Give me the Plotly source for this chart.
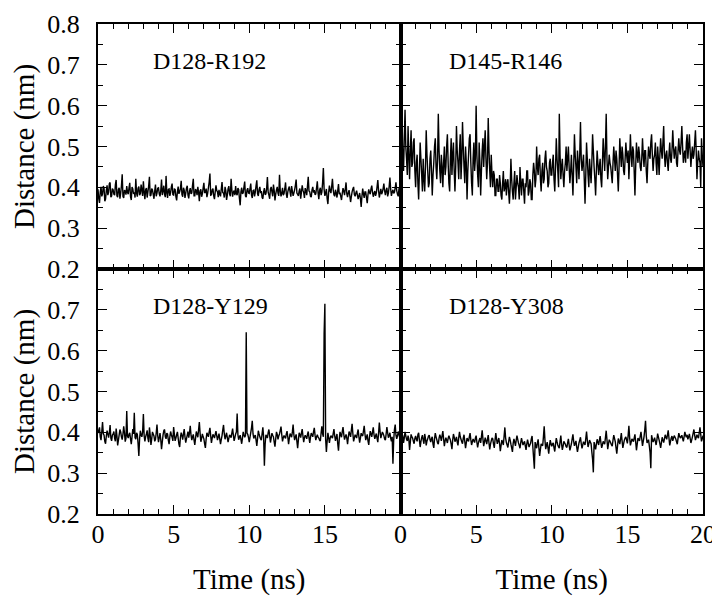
import plotly.graph_objects as go
from plotly.subplots import make_subplots

# distance traces, one sample every 0.05 ns (0 .. 20 ns)
d128_r192 = [
    0.395, 0.372, 0.362, 0.389, 0.401, 0.378, 0.384, 0.403, 0.398, 0.366,
    0.371, 0.392, 0.405, 0.381, 0.388, 0.409, 0.412, 0.376, 0.379, 0.397,
    0.394, 0.383, 0.381, 0.407, 0.418, 0.379, 0.376, 0.395, 0.399, 0.372,
    0.386, 0.404, 0.432, 0.378, 0.374, 0.393, 0.391, 0.382, 0.403, 0.388,
    0.383, 0.399, 0.411, 0.377, 0.369, 0.401, 0.396, 0.384, 0.388, 0.375,
    0.421, 0.386, 0.377, 0.398, 0.402, 0.381, 0.385, 0.407, 0.393, 0.379,
    0.415, 0.388, 0.371, 0.394, 0.398, 0.375, 0.389, 0.403, 0.426, 0.379,
    0.381, 0.397, 0.394, 0.383, 0.372, 0.391, 0.407, 0.378, 0.386, 0.398,
    0.399, 0.384, 0.378, 0.392, 0.419, 0.381, 0.391, 0.404, 0.383, 0.376,
    0.428, 0.387, 0.374, 0.395, 0.396, 0.379, 0.387, 0.401, 0.409, 0.382,
    0.381, 0.396, 0.395, 0.377, 0.368, 0.389, 0.402, 0.384, 0.389, 0.397,
    0.416, 0.383, 0.377, 0.399, 0.393, 0.374, 0.385, 0.398, 0.404, 0.381,
    0.373, 0.391, 0.398, 0.384, 0.386, 0.405, 0.421, 0.379, 0.379, 0.396,
    0.392, 0.381, 0.401, 0.388, 0.366, 0.392, 0.395, 0.377, 0.384, 0.398,
    0.411, 0.386, 0.388, 0.397, 0.376, 0.385, 0.399, 0.413, 0.434, 0.381,
    0.382, 0.394, 0.397, 0.379, 0.371, 0.389, 0.405, 0.392, 0.389, 0.376,
    0.394, 0.383, 0.378, 0.396, 0.413, 0.387, 0.386, 0.375, 0.401, 0.392,
    0.369, 0.381, 0.396, 0.403, 0.384, 0.378, 0.421, 0.394, 0.377, 0.388,
    0.392, 0.381, 0.403, 0.385, 0.381, 0.398, 0.395, 0.373, 0.356, 0.389,
    0.399, 0.384, 0.387, 0.401, 0.414, 0.379, 0.376, 0.393, 0.398, 0.386,
    0.385, 0.397, 0.409, 0.381, 0.374, 0.392, 0.393, 0.378, 0.388, 0.404,
    0.417, 0.384, 0.379, 0.395, 0.401, 0.386, 0.391, 0.375, 0.372, 0.389,
    0.398, 0.382, 0.384, 0.397, 0.425, 0.388, 0.381, 0.372, 0.396, 0.401,
    0.389, 0.378, 0.407, 0.392, 0.368, 0.383, 0.394, 0.401, 0.386, 0.379,
    0.431, 0.392, 0.378, 0.386, 0.399, 0.381, 0.385, 0.396, 0.412, 0.384,
    0.374, 0.389, 0.397, 0.402, 0.388, 0.377, 0.403, 0.391, 0.379, 0.386,
    0.394, 0.405, 0.419, 0.386, 0.383, 0.379, 0.391, 0.397, 0.372, 0.388,
    0.405, 0.393, 0.387, 0.374, 0.398, 0.392, 0.381, 0.403, 0.426, 0.391,
    0.389, 0.378, 0.376, 0.394, 0.401, 0.387, 0.393, 0.382, 0.384, 0.399,
    0.415, 0.386, 0.371, 0.393, 0.399, 0.381, 0.388, 0.412, 0.447, 0.395,
    0.379, 0.386, 0.396, 0.372, 0.359, 0.388, 0.404, 0.391, 0.386, 0.402,
    0.421, 0.394, 0.382, 0.378, 0.394, 0.386, 0.375, 0.392, 0.408, 0.383,
    0.387, 0.378, 0.369, 0.385, 0.398, 0.391, 0.381, 0.396, 0.412, 0.384,
    0.376, 0.387, 0.393, 0.379, 0.364, 0.377, 0.389, 0.396, 0.401, 0.382,
    0.378, 0.386, 0.392, 0.381, 0.371, 0.379, 0.386, 0.372, 0.352, 0.378,
    0.397, 0.384, 0.374, 0.389, 0.389, 0.375, 0.361, 0.382, 0.395, 0.387,
    0.383, 0.396, 0.404, 0.388, 0.377, 0.385, 0.391, 0.379, 0.386, 0.401,
    0.418, 0.392, 0.375, 0.386, 0.396, 0.383, 0.388, 0.397, 0.409, 0.391,
    0.381, 0.393, 0.399, 0.378, 0.386, 0.402, 0.424, 0.396, 0.379, 0.388,
    0.394, 0.385, 0.388, 0.399, 0.412, 0.392, 0.383, 0.378, 0.397, 0.401,
    0.392,
]

d145_r146 = [
    0.49, 0.56, 0.58, 0.47, 0.44, 0.52, 0.59, 0.50, 0.47, 0.43,
    0.55, 0.48, 0.42, 0.49, 0.54, 0.45, 0.46, 0.51, 0.52, 0.44,
    0.40, 0.46, 0.48, 0.41, 0.37, 0.44, 0.51, 0.47, 0.43, 0.39,
    0.47, 0.42, 0.39, 0.45, 0.54, 0.48, 0.44, 0.40, 0.41, 0.47,
    0.49, 0.44, 0.38, 0.43, 0.46, 0.50, 0.52, 0.45, 0.42, 0.47,
    0.58, 0.49, 0.44, 0.41, 0.48, 0.45, 0.40, 0.46, 0.50, 0.43,
    0.45, 0.50, 0.53, 0.46, 0.41, 0.39, 0.47, 0.52, 0.43, 0.48,
    0.51, 0.44, 0.39, 0.45, 0.55, 0.49, 0.46, 0.42, 0.49, 0.53,
    0.42, 0.47, 0.56, 0.50, 0.45, 0.41, 0.50, 0.46, 0.37, 0.44,
    0.48, 0.52, 0.53, 0.46, 0.41, 0.38, 0.47, 0.51, 0.44, 0.47,
    0.60, 0.48, 0.43, 0.40, 0.51, 0.46, 0.38, 0.44, 0.49, 0.52,
    0.45, 0.50, 0.54, 0.47, 0.42, 0.46, 0.57, 0.49, 0.44, 0.40,
    0.48, 0.43, 0.40, 0.44, 0.43, 0.38, 0.38, 0.42, 0.42, 0.39,
    0.39, 0.43, 0.41, 0.38, 0.37, 0.41, 0.44, 0.39, 0.40, 0.42,
    0.38, 0.41, 0.42, 0.39, 0.36, 0.40, 0.47, 0.42, 0.39, 0.37,
    0.41, 0.44, 0.37, 0.40, 0.43, 0.41, 0.40, 0.37, 0.45, 0.41,
    0.38, 0.42, 0.42, 0.39, 0.36, 0.41, 0.40, 0.44, 0.44, 0.38,
    0.39, 0.42, 0.41, 0.37, 0.37, 0.43, 0.46, 0.44, 0.40, 0.42,
    0.50, 0.45, 0.43, 0.47, 0.48, 0.42, 0.39, 0.44, 0.46, 0.41,
    0.42, 0.47, 0.49, 0.45, 0.44, 0.40, 0.41, 0.46, 0.47, 0.43,
    0.43, 0.46, 0.48, 0.42, 0.39, 0.45, 0.52, 0.47, 0.44, 0.40,
    0.58, 0.48, 0.42, 0.45, 0.47, 0.43, 0.40, 0.44, 0.46, 0.50,
    0.44, 0.47, 0.50, 0.45, 0.41, 0.44, 0.48, 0.43, 0.38, 0.45,
    0.53, 0.48, 0.45, 0.41, 0.49, 0.46, 0.42, 0.48, 0.56, 0.47,
    0.44, 0.46, 0.48, 0.42, 0.36, 0.43, 0.51, 0.47, 0.43, 0.40,
    0.47, 0.44, 0.41, 0.46, 0.53, 0.49, 0.45, 0.42, 0.38, 0.44,
    0.49, 0.46, 0.43, 0.45, 0.47, 0.42, 0.40, 0.46, 0.52, 0.48,
    0.44, 0.50, 0.58, 0.47, 0.42, 0.45, 0.48, 0.46, 0.45, 0.43,
    0.41, 0.46, 0.50, 0.47, 0.44, 0.49, 0.47, 0.43, 0.39, 0.45,
    0.52, 0.48, 0.45, 0.50, 0.48, 0.44, 0.43, 0.47, 0.51, 0.48,
    0.46, 0.49, 0.42, 0.47, 0.53, 0.48, 0.45, 0.50, 0.49, 0.44,
    0.38, 0.45, 0.51, 0.48, 0.46, 0.50, 0.48, 0.45, 0.44, 0.47,
    0.52, 0.48, 0.45, 0.49, 0.49, 0.44, 0.41, 0.46, 0.50, 0.48,
    0.47, 0.51, 0.53, 0.48, 0.44, 0.47, 0.48, 0.51, 0.46, 0.43,
    0.50, 0.47, 0.43, 0.48, 0.52, 0.49, 0.47, 0.51, 0.55, 0.48,
    0.45, 0.48, 0.49, 0.46, 0.44, 0.48, 0.51, 0.47, 0.46, 0.49,
    0.54, 0.50, 0.47, 0.49, 0.50, 0.46, 0.45, 0.49, 0.52, 0.49,
    0.48, 0.51, 0.55, 0.50, 0.46, 0.48, 0.49, 0.46, 0.51, 0.53,
    0.47, 0.50, 0.53, 0.49, 0.45, 0.48, 0.50, 0.47, 0.48, 0.51,
    0.54, 0.49, 0.42, 0.46, 0.49, 0.47, 0.46, 0.40, 0.52, 0.48,
    0.45,
]

d128_y129 = [
    0.398, 0.405, 0.412, 0.389, 0.381, 0.402, 0.425, 0.397, 0.393, 0.378,
    0.372, 0.391, 0.404, 0.396, 0.387, 0.399, 0.418, 0.386, 0.379, 0.393,
    0.396, 0.402, 0.385, 0.378, 0.409, 0.392, 0.368, 0.381, 0.394, 0.407,
    0.401, 0.389, 0.382, 0.396, 0.415, 0.399, 0.377, 0.386, 0.452, 0.391,
    0.386, 0.395, 0.399, 0.384, 0.371, 0.389, 0.408, 0.396, 0.448, 0.387,
    0.383, 0.399, 0.395, 0.372, 0.342, 0.384, 0.404, 0.393, 0.389, 0.401,
    0.445, 0.392, 0.378, 0.389, 0.396, 0.405, 0.385, 0.376, 0.412, 0.394,
    0.369, 0.383, 0.401, 0.396, 0.391, 0.378, 0.382, 0.399, 0.419, 0.391,
    0.376, 0.387, 0.398, 0.382, 0.359, 0.376, 0.393, 0.404, 0.407, 0.389,
    0.384, 0.398, 0.396, 0.381, 0.371, 0.389, 0.402, 0.394, 0.388, 0.379,
    0.413, 0.395, 0.379, 0.386, 0.394, 0.401, 0.386, 0.371, 0.364, 0.388,
    0.399, 0.392, 0.382, 0.397, 0.408, 0.389, 0.375, 0.384, 0.393, 0.402,
    0.387, 0.399, 0.416, 0.393, 0.381, 0.389, 0.395, 0.381, 0.369, 0.386,
    0.402, 0.395, 0.388, 0.406, 0.425, 0.398, 0.377, 0.385, 0.396, 0.389,
    0.384, 0.372, 0.362, 0.384, 0.399, 0.394, 0.389, 0.401, 0.411, 0.392,
    0.374, 0.386, 0.395, 0.391, 0.386, 0.395, 0.403, 0.392, 0.381, 0.389,
    0.397, 0.384, 0.371, 0.382, 0.392, 0.406, 0.418, 0.396, 0.383, 0.391,
    0.399, 0.387, 0.376, 0.385, 0.394, 0.391, 0.387, 0.398, 0.409, 0.393,
    0.379, 0.387, 0.396, 0.401, 0.446, 0.394, 0.382, 0.388, 0.393, 0.383,
    0.372, 0.386, 0.401, 0.394, 0.388, 0.392, 0.645, 0.398, 0.395, 0.387,
    0.376, 0.388, 0.399, 0.411, 0.428, 0.396, 0.385, 0.391, 0.393, 0.381,
    0.367, 0.385, 0.404, 0.396, 0.389, 0.384, 0.381, 0.397, 0.412, 0.389,
    0.318, 0.371, 0.394, 0.391, 0.386, 0.399, 0.407, 0.392, 0.375, 0.386,
    0.398, 0.393, 0.389, 0.376, 0.365, 0.384, 0.401, 0.395, 0.383, 0.391,
    0.396, 0.405, 0.414, 0.394, 0.378, 0.387, 0.392, 0.389, 0.385, 0.396,
    0.403, 0.388, 0.371, 0.386, 0.397, 0.393, 0.388, 0.401, 0.419, 0.394,
    0.381, 0.389, 0.395, 0.378, 0.361, 0.382, 0.399, 0.394, 0.387, 0.398,
    0.408, 0.391, 0.376, 0.387, 0.393, 0.389, 0.384, 0.395, 0.402, 0.387,
    0.374, 0.388, 0.398, 0.394, 0.389, 0.402, 0.411, 0.393, 0.381, 0.389,
    0.394, 0.388, 0.386, 0.381, 0.379, 0.398, 0.415, 0.396, 0.389, 0.642,
    0.715, 0.384, 0.352, 0.378, 0.399, 0.387, 0.374, 0.386, 0.392, 0.389,
    0.386, 0.397, 0.408, 0.391, 0.379, 0.388, 0.396, 0.372, 0.355, 0.382,
    0.401, 0.394, 0.388, 0.402, 0.413, 0.395, 0.382, 0.389, 0.395, 0.386,
    0.371, 0.389, 0.402, 0.396, 0.389, 0.405, 0.421, 0.397, 0.378, 0.386,
    0.394, 0.391, 0.386, 0.398, 0.407, 0.389, 0.375, 0.386, 0.398, 0.393,
    0.391, 0.403, 0.416, 0.396, 0.381, 0.388, 0.395, 0.379, 0.369, 0.388,
    0.403, 0.396, 0.389, 0.401, 0.412, 0.394, 0.384, 0.391, 0.397, 0.385,
    0.376, 0.398, 0.424, 0.402, 0.386, 0.393, 0.401, 0.397, 0.392, 0.384,
    0.381, 0.396, 0.413, 0.399, 0.387, 0.392, 0.399, 0.386, 0.378, 0.389,
    0.323, 0.381, 0.407, 0.419, 0.393, 0.384, 0.391, 0.402, 0.395, 0.387,
    0.388,
]

d128_y308 = [
    0.388, 0.335, 0.396, 0.391, 0.374, 0.386, 0.401, 0.392, 0.383, 0.379,
    0.392, 0.384, 0.357, 0.376, 0.395, 0.389, 0.386, 0.378, 0.372, 0.385,
    0.391, 0.383, 0.378, 0.394, 0.399, 0.381, 0.364, 0.377, 0.387, 0.393,
    0.381, 0.372, 0.396, 0.385, 0.368, 0.379, 0.384, 0.391, 0.393, 0.382,
    0.376, 0.385, 0.389, 0.371, 0.362, 0.384, 0.398, 0.389, 0.382, 0.374,
    0.371, 0.386, 0.394, 0.388, 0.379, 0.392, 0.403, 0.384, 0.366, 0.379,
    0.387, 0.381, 0.374, 0.385, 0.392, 0.386, 0.381, 0.371, 0.359, 0.381,
    0.396, 0.388, 0.377, 0.382, 0.389, 0.376, 0.368, 0.387, 0.401, 0.389,
    0.383, 0.377, 0.372, 0.386, 0.394, 0.378, 0.361, 0.374, 0.386, 0.381,
    0.378, 0.389, 0.398, 0.382, 0.369, 0.377, 0.384, 0.379, 0.375, 0.386,
    0.392, 0.376, 0.363, 0.374, 0.381, 0.386, 0.374, 0.389, 0.405, 0.384,
    0.366, 0.376, 0.387, 0.379, 0.371, 0.383, 0.393, 0.374, 0.358, 0.371,
    0.379, 0.386, 0.384, 0.371, 0.362, 0.381, 0.398, 0.384, 0.372, 0.379,
    0.386, 0.372, 0.354, 0.368, 0.381, 0.376, 0.369, 0.391, 0.412, 0.386,
    0.375, 0.369, 0.363, 0.377, 0.389, 0.381, 0.371, 0.362, 0.352, 0.373,
    0.384, 0.376, 0.367, 0.381, 0.392, 0.383, 0.374, 0.368, 0.361, 0.375,
    0.386, 0.377, 0.369, 0.374, 0.378, 0.367, 0.357, 0.371, 0.382, 0.373,
    0.364, 0.369, 0.373, 0.384, 0.391, 0.364, 0.338, 0.311, 0.376, 0.368,
    0.361, 0.374, 0.383, 0.362, 0.342, 0.358, 0.372, 0.369, 0.367, 0.389,
    0.415, 0.381, 0.359, 0.368, 0.376, 0.362, 0.348, 0.367, 0.381, 0.372,
    0.366, 0.371, 0.374, 0.362, 0.353, 0.371, 0.386, 0.377, 0.369, 0.364,
    0.361, 0.378, 0.392, 0.371, 0.357, 0.366, 0.378, 0.374, 0.371, 0.365,
    0.363, 0.374, 0.384, 0.369, 0.356, 0.364, 0.372, 0.384, 0.395, 0.378,
    0.367, 0.373, 0.379, 0.364, 0.352, 0.363, 0.374, 0.381, 0.388, 0.372,
    0.361, 0.369, 0.377, 0.373, 0.369, 0.385, 0.402, 0.381, 0.364, 0.372,
    0.381, 0.376, 0.372, 0.352, 0.334, 0.302, 0.376, 0.367, 0.358, 0.371,
    0.383, 0.376, 0.369, 0.381, 0.391, 0.375, 0.362, 0.369, 0.378, 0.374,
    0.371, 0.387, 0.404, 0.382, 0.359, 0.371, 0.382, 0.378, 0.374, 0.369,
    0.366, 0.381, 0.393, 0.385, 0.377, 0.362, 0.348, 0.367, 0.385, 0.378,
    0.371, 0.384, 0.398, 0.379, 0.362, 0.372, 0.381, 0.386, 0.389, 0.381,
    0.373, 0.392, 0.416, 0.387, 0.368, 0.376, 0.384, 0.381, 0.377, 0.386,
    0.395, 0.376, 0.356, 0.371, 0.386, 0.382, 0.379, 0.391, 0.401, 0.384,
    0.367, 0.378, 0.389, 0.406, 0.428, 0.391, 0.374, 0.378, 0.382, 0.367,
    0.351, 0.312, 0.393, 0.384, 0.376, 0.381, 0.387, 0.378, 0.369, 0.381,
    0.397, 0.389, 0.381, 0.372, 0.362, 0.375, 0.388, 0.381, 0.375, 0.384,
    0.394, 0.388, 0.383, 0.394, 0.405, 0.386, 0.368, 0.377, 0.386, 0.391,
    0.379, 0.386, 0.392, 0.388, 0.384, 0.377, 0.371, 0.385, 0.398, 0.391,
    0.386, 0.389, 0.393, 0.385, 0.378, 0.389, 0.401, 0.393, 0.388, 0.394,
    0.383, 0.389, 0.396, 0.385, 0.374, 0.381, 0.389, 0.398, 0.407, 0.393,
    0.381, 0.387, 0.394, 0.389, 0.386, 0.399, 0.412, 0.395, 0.378, 0.384,
    0.392,
]

panels = [
    ("D128-R192", d128_r192, 1, 1),
    ("D145-R146", d145_r146, 1, 2),
    ("D128-Y129", d128_y129, 2, 1),
    ("D128-Y308", d128_y308, 2, 2),
]

serif = "Liberation Serif, Times New Roman, serif"

fig = make_subplots(rows=2, cols=2, horizontal_spacing=0, vertical_spacing=0)

for name, vals, r, c in panels:
    time = [round(i * 0.05, 2) for i in range(len(vals))]
    fig.add_trace(go.Scatter(x=time, y=vals, mode="lines", name=name,
                             line=dict(color="black", width=1.4, simplify=False)),
                  row=r, col=c)
    fig.add_annotation(text=name, x=3.5 if c == 1 else 3.1, y=0.71, xanchor="left",
                       yanchor="middle", showarrow=False,
                       font=dict(family=serif, size=24, color="black"),
                       row=r, col=c)

axis_style = dict(showline=True, linewidth=2, linecolor="black", mirror="allticks",
                  ticks="inside", ticklen=9, tickwidth=1.3, tickcolor="black",
                  showgrid=False, zeroline=False, automargin=False,
                  ticklabeloverflow="allow",
                  tickfont=dict(family=serif, size=26, color="black"))

title_font = dict(family=serif, size=29, color="black")

for r in (1, 2):
    for c in (1, 2):
        # x axes: majors every 5 ns, minors every 1 ns
        fig.update_xaxes(range=[0, 20], tickmode="linear", tick0=0, dtick=5,
                         minor=dict(tickmode="linear", tick0=0, dtick=1, ticks="inside",
                                    ticklen=5, tickwidth=1.1, tickcolor="black",
                                    showgrid=False),
                         **axis_style, row=r, col=c)
        if r == 2:
            fig.update_xaxes(showticklabels=True, ticklabelstandoff=-4,
                             labelalias={"20": " "} if c == 1 else {},
                             title=dict(text="Time (ns)", standoff=22, font=title_font),
                             row=r, col=c)
        else:
            fig.update_xaxes(showticklabels=False, row=r, col=c)
        # y axes: majors every 0.1 nm, minors every 0.05 nm
        fig.update_yaxes(range=[0.2, 0.8], tickmode="linear", tick0=0.2, dtick=0.1,
                         minor=dict(tickmode="linear", tick0=0.2, dtick=0.05, ticks="inside",
                                    ticklen=5, tickwidth=1.1, tickcolor="black",
                                    showgrid=False),
                         **axis_style, row=r, col=c)
        if c == 1:
            fig.update_yaxes(showticklabels=True, ticklabelstandoff=11,
                             labelalias={"0.8": " "} if r == 2 else {},
                             title=dict(text="Distance (nm)", standoff=28, font=title_font),
                             row=r, col=c)
        else:
            fig.update_yaxes(showticklabels=False, row=r, col=c)

# the page body adds an 8 px offset, so the figure is 8 px smaller on each axis
fig.update_layout(width=712, height=588, showlegend=False,
                  margin=dict(l=90, r=17, t=16, b=82),
                  plot_bgcolor="white", paper_bgcolor="white",
                  font=dict(family=serif, color="black"))

fig.write_html("out.html")
